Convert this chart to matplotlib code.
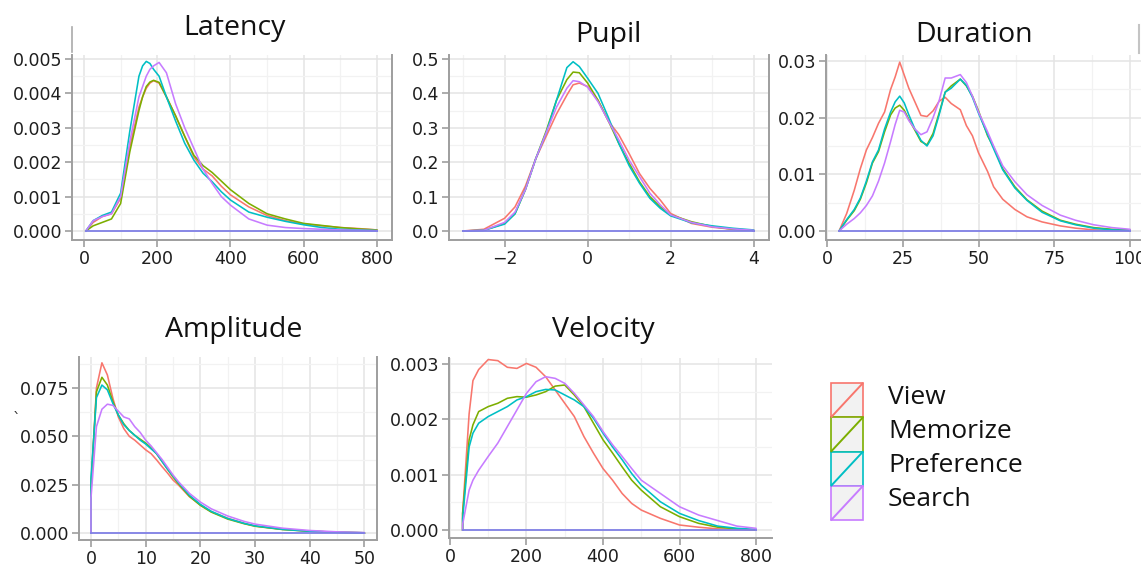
import numpy as np
import matplotlib
matplotlib.use("Agg")
import matplotlib.pyplot as plt
from matplotlib.patches import Rectangle
from matplotlib.ticker import MultipleLocator, FormatStrFormatter

W, H = 1141, 568

groups = ["View", "Memorize", "Preference", "Search"]
colors = ["#F8766D", "#7CAE00", "#00BFC4", "#C77CFF"]

# --- Latency ---
latency_x = [5, 25, 50, 75, 100, 125, 150, 160, 170, 180, 190, 205, 225, 250, 275, 300,
             325, 350, 375, 400, 450, 500, 550, 600, 650, 700, 750, 800]
latency_view = [0, 0.00025, 0.00042, 0.0005, 0.00095, 0.00245, 0.0036, 0.0039, 0.00415, 0.0043,
                0.00437, 0.0043, 0.0039, 0.00335, 0.00275, 0.00215, 0.0018, 0.0016, 0.0013,
                0.00105, 0.0007, 0.00045, 0.0003, 0.0002, 0.00015, 0.0001, 0.00007, 0.00003]
latency_memorize = [0, 0.00015, 0.00025, 0.00035, 0.0008, 0.0023, 0.0035, 0.0039, 0.0042,
                    0.00433, 0.00438, 0.00432, 0.0039, 0.00335, 0.00275, 0.0022, 0.0019, 0.0017,
                    0.00145, 0.0012, 0.0008, 0.0005, 0.00035, 0.00022, 0.00016, 0.0001,
                    0.00006, 0.00003]
latency_preference = [0, 0.0003, 0.00045, 0.00055, 0.0011, 0.0029, 0.0045, 0.0048, 0.00493,
                      0.00487, 0.0047, 0.0045, 0.0039, 0.0032, 0.00255, 0.00206, 0.00168,
                      0.00143, 0.00114, 0.0009, 0.00055, 0.0004, 0.00028, 0.00018, 0.0001,
                      0.00005, 0.00003, 0.00001]
latency_search = [0, 0.0003, 0.00042, 0.0005, 0.001, 0.0026, 0.0039, 0.0042, 0.0045, 0.0047,
                  0.0048, 0.0049, 0.0046, 0.0037, 0.003, 0.0024, 0.0018, 0.00138, 0.001,
                  0.00075, 0.00035, 0.00017, 0.0001, 0.00007, 0.00005, 0.00003, 0.00002,
                  0.00001]

# --- Pupil ---
pupil_x = [-3, -2.5, -2, -1.75, -1.5, -1.25, -1, -0.75, -0.5, -0.35, -0.2, 0, 0.25, 0.5,
           0.75, 1, 1.25, 1.5, 1.75, 2, 2.5, 3, 3.5, 4]
pupil_view = [0, 0.005, 0.037, 0.07, 0.13, 0.21, 0.275, 0.34, 0.395, 0.425, 0.43, 0.42,
              0.38, 0.32, 0.28, 0.225, 0.167, 0.124, 0.09, 0.051, 0.022, 0.011, 0.005, 0.002]
pupil_memorize = [0, 0.002, 0.022, 0.05, 0.12, 0.21, 0.29, 0.38, 0.44, 0.462, 0.46, 0.43,
                  0.38, 0.32, 0.255, 0.197, 0.143, 0.1, 0.07, 0.047, 0.027, 0.013, 0.005, 0.002]
pupil_preference = [0, 0.002, 0.02, 0.05, 0.12, 0.21, 0.285, 0.38, 0.475, 0.492, 0.478, 0.444,
                    0.40, 0.33, 0.255, 0.19, 0.139, 0.095, 0.066, 0.044, 0.024, 0.015, 0.008, 0.003]
pupil_search = [0, 0.002, 0.025, 0.055, 0.12, 0.21, 0.285, 0.36, 0.415, 0.437, 0.434, 0.418,
                0.376, 0.32, 0.265, 0.206, 0.158, 0.11, 0.076, 0.047, 0.025, 0.012, 0.006, 0.002]

# --- Duration ---
duration_x = [4, 6.5, 9, 11, 13, 15, 17, 19, 21, 22.5, 24, 25.5, 27, 29, 31, 33, 35, 37, 39,
              41, 44, 46, 48, 50, 53, 55, 58, 62, 66, 71, 77, 82, 88, 94, 100]
duration_view = [0, 0.0031, 0.0072, 0.011, 0.0143, 0.0165, 0.019, 0.021, 0.025, 0.0272,
                 0.0298, 0.0275, 0.0252, 0.0228, 0.0204, 0.0202, 0.0212, 0.0229, 0.0236,
                 0.0225, 0.0214, 0.0186, 0.0168, 0.0138, 0.0105, 0.0078, 0.0056, 0.0038,
                 0.0025, 0.0016, 0.0009, 0.0005, 0.0002, 0.0001, 0.00005]
duration_memorize = [0, 0.0019, 0.0036, 0.0056, 0.0085, 0.012, 0.014, 0.0175, 0.0205, 0.0217,
                     0.0222, 0.0213, 0.0197, 0.0178, 0.0158, 0.0152, 0.0172, 0.0208, 0.0245,
                     0.0256, 0.0268, 0.0256, 0.0238, 0.0212, 0.0168, 0.0148, 0.011, 0.0078,
                     0.0055, 0.0035, 0.0019, 0.0012, 0.0006, 0.0003, 0.0002]
duration_preference = [0, 0.002, 0.0038, 0.0058, 0.0088, 0.0122, 0.0143, 0.018, 0.021, 0.0228,
                       0.0238, 0.0226, 0.0205, 0.018, 0.016, 0.015, 0.0168, 0.0205, 0.0245,
                       0.0252, 0.0268, 0.0257, 0.0236, 0.0208, 0.017, 0.0145, 0.0108, 0.0076,
                       0.0054, 0.0033, 0.0018, 0.0011, 0.0005, 0.0002, 0.0001]
duration_search = [0, 0.0012, 0.0022, 0.0032, 0.0045, 0.0062, 0.0088, 0.012, 0.0158, 0.0188,
                   0.0213, 0.021, 0.0195, 0.018, 0.017, 0.0175, 0.02, 0.023, 0.027, 0.027,
                   0.0276, 0.0262, 0.0238, 0.021, 0.0175, 0.015, 0.0115, 0.0087, 0.0064,
                   0.0045, 0.0028, 0.0019, 0.0011, 0.0006, 0.0003]

# --- Amplitude ---
amplitude_x = [0, 1, 2, 3, 4, 5, 6, 7, 8, 9, 10, 11, 12, 13, 14, 15, 16, 18, 20, 22, 25,
               28, 30, 35, 40, 45, 50]
amplitude_view = [0.022, 0.075, 0.088, 0.0817, 0.0697, 0.06, 0.054, 0.05, 0.048, 0.0455,
                  0.043, 0.041, 0.0378, 0.0343, 0.031, 0.0274, 0.0248, 0.0188, 0.0145, 0.011,
                  0.0076, 0.005, 0.0036, 0.0019, 0.001, 0.0004, 0.0001]
amplitude_memorize = [0.025, 0.073, 0.0805, 0.0765, 0.068, 0.061, 0.0565, 0.053, 0.0505,
                      0.0485, 0.0465, 0.044, 0.041, 0.037, 0.033, 0.029, 0.0255, 0.019, 0.0143,
                      0.0108, 0.0072, 0.0048, 0.0035, 0.0018, 0.0009, 0.0004, 0.0001]
amplitude_preference = [0.028, 0.07, 0.0765, 0.074, 0.067, 0.061, 0.056, 0.053, 0.0505,
                        0.048, 0.046, 0.0435, 0.041, 0.037, 0.033, 0.0295, 0.026, 0.0195,
                        0.0148, 0.0112, 0.0075, 0.005, 0.0037, 0.0019, 0.0009, 0.0004, 0.0001]
amplitude_search = [0.018, 0.055, 0.064, 0.0666, 0.066, 0.063, 0.06, 0.059, 0.055, 0.052,
                    0.048, 0.045, 0.0415, 0.038, 0.034, 0.03, 0.0265, 0.0205, 0.016, 0.0125,
                    0.0088, 0.006, 0.0046, 0.0025, 0.0013, 0.0006, 0.0002]

# --- Velocity ---
velocity_x = [33, 50, 60, 75, 100, 125, 150, 175, 200, 225, 250, 275, 300, 325, 350, 375,
              400, 425, 450, 475, 500, 550, 600, 650, 700, 750, 800]
velocity_view = [0.0003, 0.0021, 0.0027, 0.0029, 0.00308, 0.00306, 0.00294, 0.00292, 0.00301,
                 0.00294, 0.00277, 0.00253, 0.00229, 0.00205, 0.00169, 0.00139, 0.00111,
                 0.0009, 0.00066, 0.00048, 0.00036, 0.00021, 0.00009, 0.00005, 0.00002,
                 0.00001, 0.0]
velocity_memorize = [0.0003, 0.00163, 0.0019, 0.00214, 0.00223, 0.00229, 0.00238, 0.00241,
                     0.0024, 0.00244, 0.0025, 0.0026, 0.00262, 0.00244, 0.00223, 0.00193,
                     0.00163, 0.00139, 0.00114, 0.0009, 0.00072, 0.00042, 0.00024, 0.00012,
                     0.00005, 0.00002, 0.0]
velocity_preference = [0.0002, 0.0015, 0.00175, 0.00193, 0.00205, 0.00214, 0.00223, 0.00235,
                       0.00241, 0.0025, 0.00254, 0.00253, 0.00244, 0.00235, 0.00223, 0.00202,
                       0.00175, 0.0015, 0.00127, 0.00102, 0.00081, 0.00051, 0.0003, 0.00017,
                       0.00007, 0.00003, 0.00001]
velocity_search = [0.0001, 0.00072, 0.0009, 0.00108, 0.00133, 0.00157, 0.00187, 0.00217,
                   0.00247, 0.00268, 0.00277, 0.00274, 0.00265, 0.00247, 0.00226, 0.00205,
                   0.00178, 0.00154, 0.00133, 0.00111, 0.0009, 0.00066, 0.00042, 0.00027,
                   0.00017, 0.00007, 0.00003]

panels = [
    # title, x, series, box(px), xlim, ylim, x major/minor, y major/minor, yfmt, right border
    ("Latency", latency_x, [latency_view, latency_memorize, latency_preference, latency_search],
     (72, 55, 392, 240), (-32.8, 841), (-0.000262, 0.005116), (200, 100), (0.001, 0.0005), "%.3f", True),
    ("Pupil", pupil_x, [pupil_view, pupil_memorize, pupil_preference, pupil_search],
     (449, 55, 769, 240), (-3.34, 4.37), (-0.0262, 0.5116), (2, 1), (0.1, 0.05), "%.1f", True),
    ("Duration", duration_x, [duration_view, duration_memorize, duration_preference, duration_search],
     (826, 55, 1150, 240), (-0.33, 106.6), (-0.00159, 0.03106), (25, 12.5), (0.01, 0.005), "%.2f", False),
    ("Amplitude", amplitude_x, [amplitude_view, amplitude_memorize, amplitude_preference, amplitude_search],
     (79, 357, 377, 540), (-2.19, 52.3), (-0.00362, 0.0910), (10, 5), (0.025, 0.0125), "%.3f", True),
    ("Velocity", velocity_x, [velocity_view, velocity_memorize, velocity_preference, velocity_search],
     (449, 358, 772, 538), (-2.6, 841.8), (-0.000145, 0.003108), (200, 100), (0.001, 0.0005), "%.3f", False),
]

title_pos = {"Latency": (234, 35), "Pupil": (608, 42), "Duration": (974, 42),
             "Amplitude": (234, 337), "Velocity": (603, 337)}

axis_grey = "#9E9E9E"
fig = plt.figure(figsize=(W / 100, H / 100), dpi=100)

for title, xs, series, box, xlim, ylim, xstep, ystep, yfmt, right in panels:
    x0, y0, x1, y1 = box
    ax = fig.add_axes([x0 / W, 1 - y1 / H, (x1 - x0) / W, (y1 - y0) / H])
    ax.set_xlim(*xlim)
    ax.set_ylim(*ylim)
    ax.xaxis.set_major_locator(MultipleLocator(xstep[0]))
    ax.xaxis.set_minor_locator(MultipleLocator(xstep[1]))
    ax.yaxis.set_major_locator(MultipleLocator(ystep[0]))
    ax.yaxis.set_minor_locator(MultipleLocator(ystep[1]))
    ax.yaxis.set_major_formatter(FormatStrFormatter(yfmt))
    ax.set_axisbelow(True)
    ax.grid(which="major", color="#E4E4E4", lw=1.1)
    ax.grid(which="minor", color="#F2F2F2", lw=0.9)
    ax.spines["top"].set_visible(False)
    ax.spines["right"].set_visible(right)
    for s in ["left", "bottom", "right"]:
        ax.spines[s].set_color(axis_grey)
        ax.spines[s].set_linewidth(1.4)
    ax.tick_params(which="major", direction="out", length=5, width=1.2, color=axis_grey,
                   labelsize=12.5, labelcolor="#1E1E1E", pad=2)
    ax.tick_params(which="minor", length=0)
    ax.tick_params(axis="y", right=False)

    xs = np.asarray(xs, dtype=float)
    for ys, c in zip(series, colors):
        ys = np.asarray(ys, dtype=float)
        ax.plot(np.r_[xs[0], xs, xs[-1]], np.r_[0, ys, 0], color=c, lw=1.15,
                solid_joinstyle="round", clip_on=False)
    ax.plot([xs[0], xs[-1]], [0, 0], color="#8080E6", lw=1.3)

    tx, ty = title_pos[title]
    fig.text(tx / W, 1 - ty / H, title, family="Open Sans", fontsize=20.5,
             ha="center", va="baseline", color="#111111")

# legend and small leftovers, drawn in pixel coordinates
ov = fig.add_axes([0, 0, 1, 1])
ov.set_xlim(0, W)
ov.set_ylim(H, 0)
ov.axis("off")
for i, (g, c) in enumerate(zip(groups, colors)):
    top = 383 + i * 34.3
    ov.add_patch(Rectangle((831, top), 32, 34.3, facecolor="#F2F2F2", edgecolor=c, lw=1.2))
    ov.plot([831.5, 862.5], [top + 33.8, top + 0.5], color=c, lw=1.4)
    ov.text(888, top + 14, g, family="Open Sans", fontsize=19, va="center", ha="left",
            color="#111111")

ov.plot([72, 72], [27, 52], color="#AAAAAA", lw=1.2)
ov.plot([1139, 1139], [25, 53], color="#C4C4C4", lw=1.5)
ov.text(17, 420, "`", fontsize=11, ha="center", va="center", color="#333333")

fig.savefig("out.png", dpi=100)
